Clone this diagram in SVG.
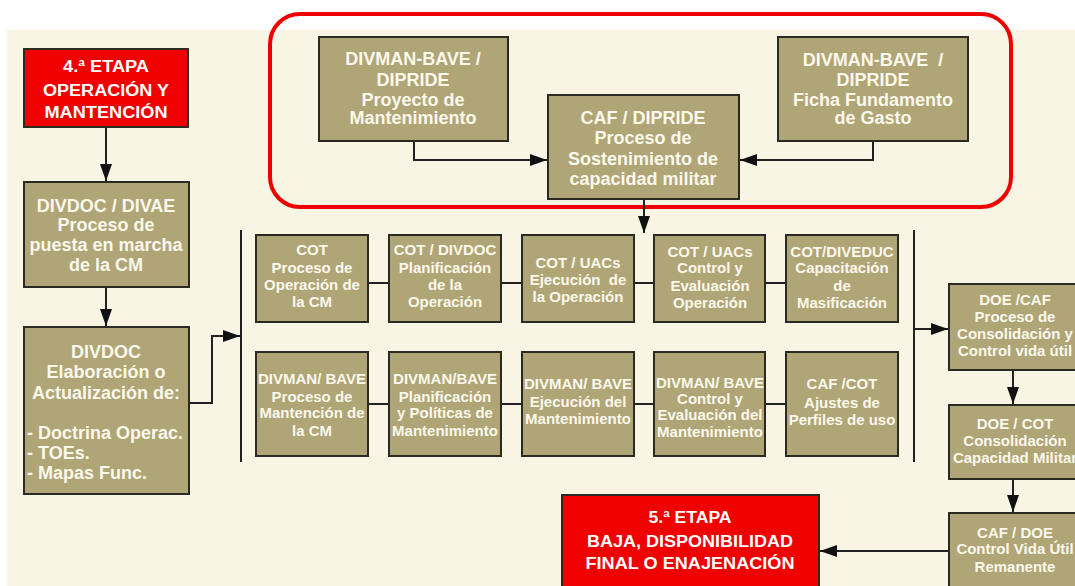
<svg xmlns="http://www.w3.org/2000/svg" width="1075" height="586" viewBox="0 0 1075 586">
<style>
.box{fill:#B0A576;stroke:#2A2A22;stroke-width:2}
.red{fill:#F00000;stroke:#2A2A22;stroke-width:2}
.t{font-family:"Liberation Sans",Arial,sans-serif;font-weight:bold;fill:#FBF8EC;text-anchor:middle}
.L{font-size:18px}
.S{font-size:15px}
.R{font-size:16px;fill:#FFFFFF}
.c{fill:none;stroke:#222;stroke-width:2}
</style>
<defs>
<marker id="ah" markerUnits="userSpaceOnUse" markerWidth="17" markerHeight="12" refX="17" refY="6" orient="auto">
<path d="M0,0 L17,6 L0,12 z" fill="#111"/>
</marker>
</defs>
<rect x="0" y="0" width="1075" height="586" fill="#FFFFFF"/>
<rect x="7" y="30" width="1068" height="556" fill="#F8F5E4"/>
<rect x="270" y="14" width="741" height="193" rx="30" ry="30" fill="none" stroke="#EE0000" stroke-width="4"/>

<g id="connectors">
<path class="c" d="M106,127 V181" marker-end="url(#ah)"/>
<path class="c" d="M106,287 V326" marker-end="url(#ah)"/>
<path class="c" d="M189,403 H212 V336 H240" marker-end="url(#ah)"/>
<path class="c" d="M241,230 V462"/>
<path class="c" d="M914,230 V462"/>
<path class="c" d="M414,141 V160 H547" marker-end="url(#ah)"/>
<path class="c" d="M873,141 V160 H740" marker-end="url(#ah)"/>
<path class="c" d="M644,199 V233" marker-end="url(#ah)"/>
<path class="c" d="M368,283 H389 M501,283 H522 M634,283 H654 M765,283 H786"/>
<path class="c" d="M368,404 H389 M501,404 H522 M634,404 H654 M765,404 H786"/>
<path class="c" d="M914,329 H948" marker-end="url(#ah)"/>
<path class="c" d="M1013,370 V404" marker-end="url(#ah)"/>
<path class="c" d="M1013,479 V512" marker-end="url(#ah)"/>
<path class="c" d="M949,551 H820" marker-end="url(#ah)"/>
</g>

<g id="etapa4">
<rect class="red" x="24" y="49" width="164" height="78"/>
<text class="t R" x="106" y="72" textLength="86" lengthAdjust="spacingAndGlyphs">4.ª ETAPA</text>
<text class="t R" x="106" y="96" textLength="126" lengthAdjust="spacingAndGlyphs">OPERACIÓN Y</text>
<text class="t R" x="106" y="118" textLength="123" lengthAdjust="spacingAndGlyphs">MANTENCIÓN</text>
</g>

<g id="divdoc-divae">
<rect class="box" x="24" y="182" width="165" height="105"/>
<text class="t L" x="106" y="212">DIVDOC / DIVAE</text>
<text class="t L" x="106" y="231">Proceso de</text>
<text class="t L" x="106" y="251">puesta en marcha</text>
<text class="t L" x="106" y="271">de la CM</text>
</g>

<g id="divdoc-elab">
<rect class="box" x="24" y="327" width="165" height="167"/>
<text class="t L" x="106" y="358">DIVDOC</text>
<text class="t L" x="106" y="378">Elaboración o</text>
<text class="t L" x="106" y="399">Actualización de:</text>
<text class="t L" x="27" y="439" style="text-anchor:start">- Doctrina Operac.</text>
<text class="t L" x="27" y="459" style="text-anchor:start">- TOEs.</text>
<text class="t L" x="27" y="479" style="text-anchor:start">- Mapas Func.</text>
</g>

<g id="proyecto">
<rect class="box" x="319" y="37" width="189" height="104"/>
<text class="t L" x="413" y="65">DIVMAN-BAVE /</text>
<text class="t L" x="413" y="86">DIPRIDE</text>
<text class="t L" x="413" y="106">Proyecto de</text>
<text class="t L" x="413" y="124">Mantenimiento</text>
</g>

<g id="caf-dipride">
<rect class="box" x="548" y="95" width="191" height="104"/>
<text class="t L" x="643" y="124">CAF / DIPRIDE</text>
<text class="t L" x="643" y="144">Proceso de</text>
<text class="t L" x="643" y="165">Sostenimiento de</text>
<text class="t L" x="643" y="185">capacidad militar</text>
</g>

<g id="ficha">
<rect class="box" x="778" y="37" width="190" height="104"/>
<text class="t L" x="873" y="66" xml:space="preserve">DIVMAN-BAVE  /</text>
<text class="t L" x="873" y="86">DIPRIDE</text>
<text class="t L" x="873" y="106">Ficha Fundamento</text>
<text class="t L" x="873" y="124">de Gasto</text>
</g>

<g id="op1">
<rect class="box" x="256" y="235" width="112" height="87"/>
<text class="t S" x="312" y="255">COT</text>
<text class="t S" x="312" y="273">Proceso de</text>
<text class="t S" x="312" y="290">Operación de</text>
<text class="t S" x="312" y="307">la CM</text>
</g>
<g id="op2">
<rect class="box" x="389" y="235" width="112" height="87"/>
<text class="t S" x="445" y="255">COT / DIVDOC</text>
<text class="t S" x="445" y="273">Planificación</text>
<text class="t S" x="445" y="290">de la</text>
<text class="t S" x="445" y="307">Operación</text>
</g>
<g id="op3">
<rect class="box" x="522" y="235" width="112" height="87"/>
<text class="t S" x="578" y="268">COT / UACs</text>
<text class="t S" x="578" y="285" xml:space="preserve">Ejecución  de</text>
<text class="t S" x="578" y="302">la Operación</text>
</g>
<g id="op4">
<rect class="box" x="654" y="235" width="111" height="87"/>
<text class="t S" x="710" y="257">COT / UACs</text>
<text class="t S" x="710" y="273">Control y</text>
<text class="t S" x="710" y="291">Evaluación</text>
<text class="t S" x="710" y="308">Operación</text>
</g>
<g id="op5">
<rect class="box" x="786" y="235" width="112" height="87"/>
<text class="t S" x="842" y="257">COT/DIVEDUC</text>
<text class="t S" x="842" y="273">Capacitación</text>
<text class="t S" x="842" y="291">de</text>
<text class="t S" x="842" y="308">Masificación</text>
</g>

<g id="mt1">
<rect class="box" x="256" y="352" width="112" height="104"/>
<text class="t S" x="312" y="384">DIVMAN/ BAVE</text>
<text class="t S" x="312" y="402">Proceso de</text>
<text class="t S" x="312" y="418">Mantención de</text>
<text class="t S" x="312" y="436">la CM</text>
</g>
<g id="mt2">
<rect class="box" x="389" y="352" width="112" height="104"/>
<text class="t S" x="445" y="384">DIVMAN/BAVE</text>
<text class="t S" x="445" y="402">Planificación</text>
<text class="t S" x="445" y="418">y Políticas de</text>
<text class="t S" x="445" y="436">Mantenimiento</text>
</g>
<g id="mt3">
<rect class="box" x="522" y="352" width="112" height="104"/>
<text class="t S" x="578" y="389">DIVMAN/ BAVE</text>
<text class="t S" x="578" y="407">Ejecución del</text>
<text class="t S" x="578" y="424">Mantenimiento</text>
</g>
<g id="mt4">
<rect class="box" x="654" y="352" width="111" height="104"/>
<text class="t S" x="710" y="388">DIVMAN/ BAVE</text>
<text class="t S" x="710" y="404">Control y</text>
<text class="t S" x="710" y="420">Evaluación del</text>
<text class="t S" x="710" y="437">Mantenimiento</text>
</g>
<g id="mt5">
<rect class="box" x="786" y="352" width="112" height="104"/>
<text class="t S" x="842" y="389">CAF /COT</text>
<text class="t S" x="842" y="408">Ajustes de</text>
<text class="t S" x="842" y="425">Perfiles de uso</text>
</g>

<g id="doe-caf">
<rect class="box" x="949" y="284" width="140" height="86"/>
<text class="t S" x="1015" y="305">DOE /CAF</text>
<text class="t S" x="1015" y="322">Proceso de</text>
<text class="t S" x="1015" y="339">Consolidación y</text>
<text class="t S" x="1015" y="356">Control vida útil</text>
</g>
<g id="doe-cot">
<rect class="box" x="949" y="405" width="140" height="74"/>
<text class="t S" x="1015" y="429">DOE / COT</text>
<text class="t S" x="1015" y="446">Consolidación</text>
<text class="t S" x="1015" y="463">Capacidad Militar</text>
</g>
<g id="caf-doe">
<rect class="box" x="949" y="513" width="140" height="90"/>
<text class="t S" x="1015" y="538">CAF / DOE</text>
<text class="t S" x="1015" y="554">Control Vida Útil</text>
<text class="t S" x="1015" y="572">Remanente</text>
</g>

<g id="etapa5">
<rect class="red" x="562" y="495" width="257" height="110"/>
<text class="t R" x="690" y="523" textLength="83" lengthAdjust="spacingAndGlyphs">5.ª ETAPA</text>
<text class="t R" x="690" y="547" textLength="206" lengthAdjust="spacingAndGlyphs">BAJA, DISPONIBILIDAD</text>
<text class="t R" x="690" y="569" textLength="209" lengthAdjust="spacingAndGlyphs">FINAL O ENAJENACIÓN</text>
</g>
</svg>
